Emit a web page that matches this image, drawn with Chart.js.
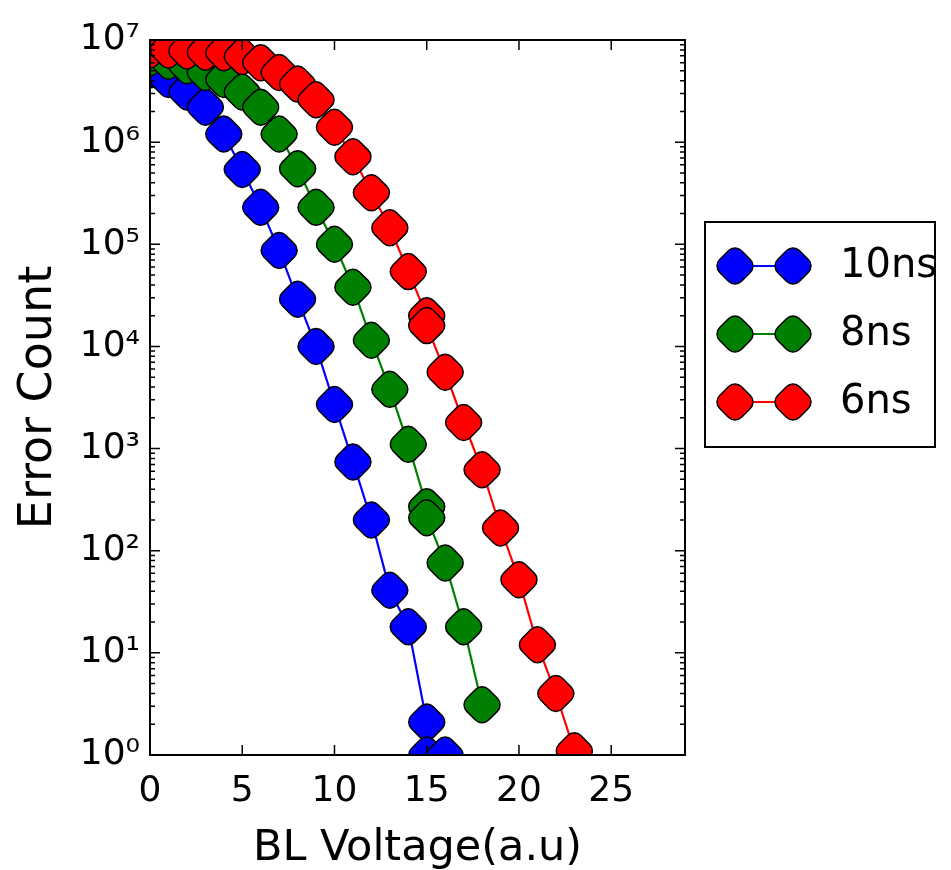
<!DOCTYPE html>
<html>
<head>
<meta charset="utf-8">
<script src="https://cdn.jsdelivr.net/npm/chart.js@4"></script>
<style>
  html, body { margin: 0; padding: 0; background: #fff; }
  #wrap { width: 951px; height: 870px; position: relative; }
</style>
</head>
<body>
<div id="wrap"><canvas id="chart"></canvas></div>
<script>
// ── data ─────────────────────────────────────────────────────────────────────
const seriesNames = ['10ns', '8ns', '6ns'];
const seriesColors = ['#0000ff', '#008000', '#ff0000'];

const x10 = [0, 1, 2, 3, 4, 5, 6, 7, 8, 9, 10, 11, 12, 13, 14, 15, 15, 16];
const y10 = [5.1e6, 4.1e6, 3.1e6, 2.2e6, 1.2e6, 5.4e5, 2.3e5, 8.7e4, 2.9e4, 1.0e4,
             2.7e3, 7.4e2, 2.0e2, 41, 18, 2.1, 1, 1];

const x8 = [0, 1, 2, 3, 4, 5, 6, 7, 8, 9, 10, 11, 12, 13, 14, 15, 15, 16, 17, 18];
const y8 = [6.7e6, 6.2e6, 5.6e6, 4.8e6, 4.1e6, 3.1e6, 2.2e6, 1.2e6, 5.5e5, 2.3e5,
            1.0e5, 3.8e4, 1.15e4, 3.8e3, 1.1e3, 2.7e2, 2.1e2, 76, 18, 3.1];

const x6 = [0, 1, 2, 3, 4, 5, 6, 7, 8, 9, 10, 11, 12, 13, 14, 15, 15, 16, 17, 18, 19, 20, 21, 22, 23];
const y6 = [8.0e6, 8.0e6, 7.8e6, 7.6e6, 7.5e6, 6.9e6, 6.0e6, 4.8e6, 3.7e6, 2.6e6,
            1.4e6, 7.2e5, 3.2e5, 1.45e5, 5.4e4, 2.0e4, 1.6e4, 5.6e3, 1.8e3, 6.2e2,
            1.67e2, 52, 12, 4.0, 1.1];

const xTicks = [0, 5, 10, 15, 20, 25];
const yTicks = [1, 10, 100, 1e3, 1e4, 1e5, 1e6, 1e7];
const yTickLabels = ['10⁰', '10¹', '10²', '10³', '10⁴', '10⁵', '10⁶', '10⁷'];

const FONT = "'DejaVu Sans', sans-serif";
const MARKER_R = 18;

const pts = (xs, ys) => xs.map((x, i) => ({ x, y: ys[i] }));

const makeSet = (i, xs, ys) => ({
    label: seriesNames[i],
    data: pts(xs, ys),
    showLine: true,
    borderColor: seriesColors[i], borderWidth: 2.2,
    pointStyle: 'rectRounded', pointRotation: 45,
    pointRadius: MARKER_R, pointHoverRadius: MARKER_R,
    pointBackgroundColor: seriesColors[i],
    pointBorderColor: '#000', pointBorderWidth: 1.5,
    order: 2 - i,  // red drawn on top, like the original
    clip: 0,
});

// ── inward ticks + axes frame ────────────────────────────────────────────────
const frame = {
    id: 'frame',
    afterDatasetsDraw(chart) {
        const { ctx, chartArea: a, scales: { x, y } } = chart;
        ctx.save();
        ctx.strokeStyle = '#000';
        ctx.lineWidth = 1.5;
        ctx.beginPath();
        xTicks.forEach(v => {
            const px = x.getPixelForValue(v);
            ctx.moveTo(px, a.bottom); ctx.lineTo(px, a.bottom - 10);
            ctx.moveTo(px, a.top);    ctx.lineTo(px, a.top + 10);
        });
        yTicks.forEach((v, k) => {
            const py = y.getPixelForValue(v);
            ctx.moveTo(a.left, py);  ctx.lineTo(a.left + 10, py);
            ctx.moveTo(a.right, py); ctx.lineTo(a.right - 10, py);
            if (k === yTicks.length - 1) return;
            for (let m = 2; m <= 9; m++) {
                const pm = y.getPixelForValue(v * m);
                ctx.moveTo(a.left, pm);  ctx.lineTo(a.left + 5, pm);
                ctx.moveTo(a.right, pm); ctx.lineTo(a.right - 5, pm);
            }
        });
        ctx.stroke();
        ctx.lineWidth = 2;
        ctx.strokeRect(a.left, a.top, a.right - a.left, a.bottom - a.top);
        ctx.restore();
    }
};

// ── boxed legend outside the axes ────────────────────────────────────────────
const boxLegend = {
    id: 'boxLegend',
    afterDraw(chart) {
        const { ctx } = chart;
        const bx = 705, by = 222, bw = 230, bh = 225;
        ctx.save();
        ctx.fillStyle = '#fff';
        ctx.fillRect(bx, by, bw, bh);
        ctx.strokeStyle = '#000'; ctx.lineWidth = 2;
        ctx.strokeRect(bx, by, bw, bh);
        chart.data.datasets.forEach((ds, i) => {
            const cy = by + 44 + i * 68;
            const x1 = bx + 30, x2 = bx + 88;
            ctx.strokeStyle = ds.borderColor; ctx.lineWidth = 2.2;
            ctx.beginPath(); ctx.moveTo(x1, cy); ctx.lineTo(x2, cy); ctx.stroke();
            [x1, x2].forEach(px => {
                ctx.fillStyle = ds.pointBackgroundColor;
                ctx.strokeStyle = '#000'; ctx.lineWidth = 1.5;
                Chart.helpers.drawPoint(ctx, {
                    pointStyle: 'rectRounded', rotation: 45,
                    radius: MARKER_R, borderWidth: 1.5
                }, px, cy);
            });
            ctx.fillStyle = '#000';
            ctx.font = `40px ${FONT}`;
            ctx.textBaseline = 'middle';
            ctx.fillText(ds.label, bx + 135, cy + 1);
        });
        ctx.restore();
    }
};

new Chart(document.getElementById('chart'), {
    type: 'scatter',
    data: {
        datasets: [
            makeSet(0, x10, y10),
            makeSet(1, x8, y8),
            makeSet(2, x6, y6),
        ]
    },
    options: {
        responsive: true, maintainAspectRatio: false,
        animation: false,
        events: [],
        layout: { padding: { top: 40, right: 266, left: 0, bottom: 0 } },
        plugins: { legend: { display: false }, tooltip: { enabled: false } },
        scales: {
            x: {
                type: 'linear', min: 0, max: 29,
                grid: { display: false, drawTicks: false },
                border: { display: false },
                afterBuildTicks: s => { s.ticks = xTicks.map(v => ({ value: v })); },
                afterFit: s => { s.height = 115; },
                ticks: { color: '#000', padding: 15, font: { family: FONT, size: 36 } },
                title: {
                    display: true, text: 'BL Voltage(a.u)', color: '#000',
                    font: { family: FONT, size: 43 }, padding: { top: 0, bottom: -5 }
                }
            },
            y: {
                type: 'logarithmic', min: 1, max: 1e7,
                grid: { display: false, drawTicks: false },
                border: { display: false },
                afterBuildTicks: s => { s.ticks = yTicks.map(v => ({ value: v })); },
                afterFit: s => { s.width = 150; },
                ticks: {
                    color: '#000', padding: 10, font: { family: FONT, size: 36 },
                    callback: v => yTickLabels[yTicks.indexOf(v)]
                },
                title: {
                    display: true, text: 'Error Count', color: '#000',
                    font: { family: FONT, size: 46 }, padding: { top: 11, bottom: 0 }
                }
            }
        }
    },
    plugins: [frame, boxLegend]
});
</script>
</body>
</html>
